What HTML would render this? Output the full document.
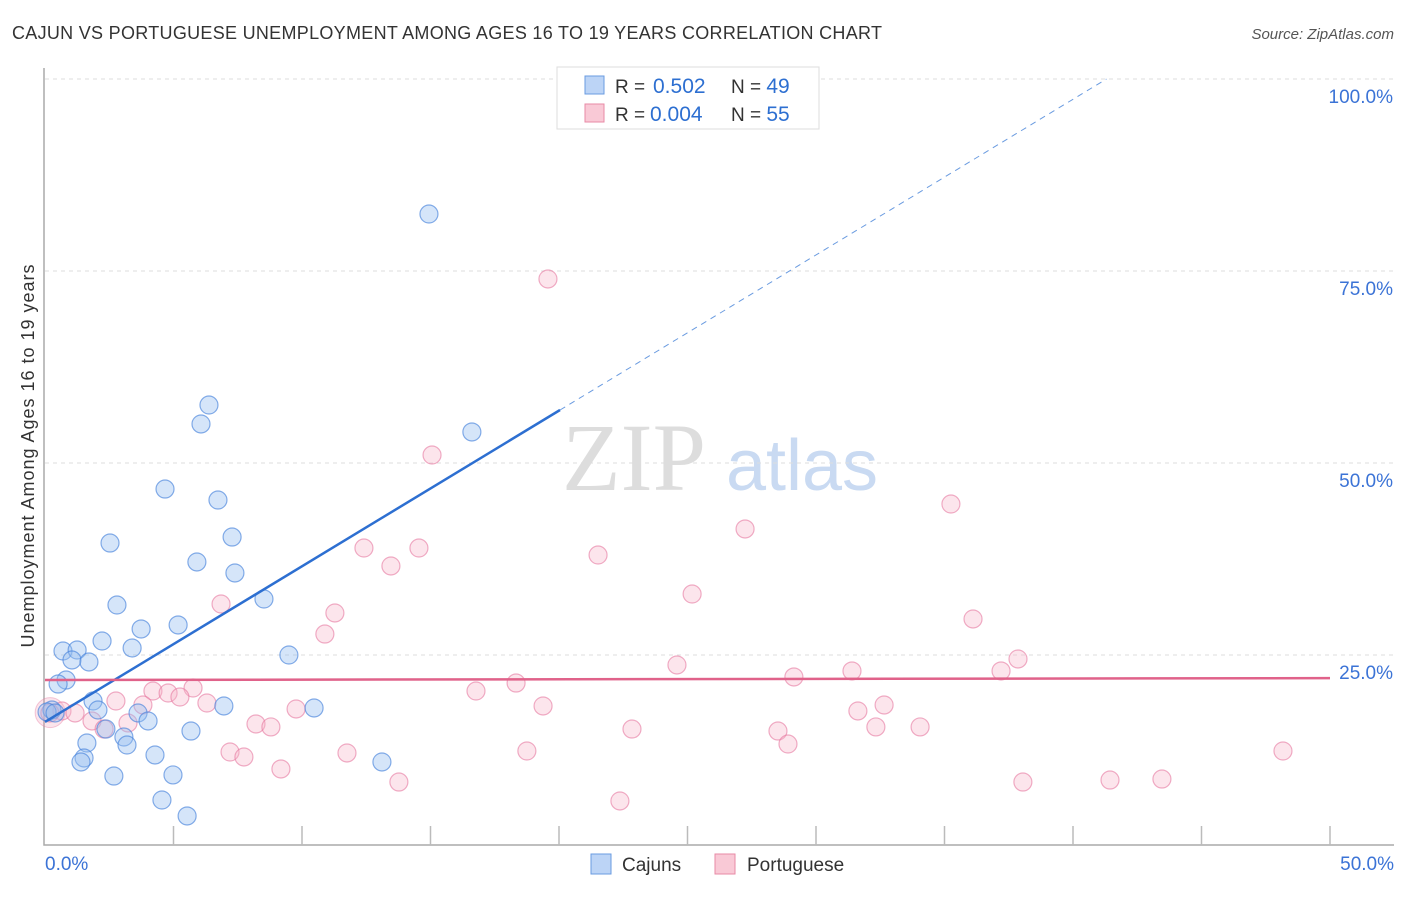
<!DOCTYPE html>
<html><head><meta charset="utf-8"><style>
body{margin:0;background:#fff;font-family:"Liberation Sans",sans-serif}
svg text{font-family:"Liberation Sans",sans-serif}
</style></head><body>
<svg id="chart" width="1406" height="892">
<text x="12" y="39" font-size="18" fill="#333" textLength="870">CAJUN VS PORTUGUESE UNEMPLOYMENT AMONG AGES 16 TO 19 YEARS CORRELATION CHART</text>
<text x="1394" y="39" font-size="15" fill="#555" font-style="italic" text-anchor="end">Source: ZipAtlas.com</text>
<text x="634" y="490" font-size="96" fill="#ddd" style="font-family:'Liberation Serif',serif" text-anchor="middle">ZIP</text>
<text x="802" y="490" font-size="72" fill="#c9daf2" text-anchor="middle">atlas</text>
<text transform="translate(34,456) rotate(-90)" font-size="18" fill="#333" text-anchor="middle" textLength="383">Unemployment Among Ages 16 to 19 years</text>
<g id="grid"></g><g id="marks"></g><g id="lines"></g>
<g>
<rect x="557" y="67" width="262" height="62" fill="#fff" stroke="#ddd"/>
<rect x="585" y="76" width="19" height="18" fill="#bcd4f6" stroke="#6a9be0"/>
<rect x="585" y="104" width="19" height="18" fill="#f9c9d6" stroke="#e88aa6"/>
<text x="615" y="93" font-size="19" fill="#333">R = <tspan x="653" fill="#2d6fd1" font-size="21">0.502</tspan><tspan x="731">N = </tspan><tspan fill="#2d6fd1" font-size="21">49</tspan></text>
<text x="615" y="121" font-size="19" fill="#333">R = <tspan x="650" fill="#2d6fd1" font-size="21">0.004</tspan><tspan x="731">N = </tspan><tspan fill="#2d6fd1" font-size="21">55</tspan></text>
</g>
<g>
<rect x="591" y="854" width="20" height="20" fill="#bcd4f6" stroke="#6a9be0"/>
<text x="622" y="871" font-size="19" fill="#333">Cajuns</text>
<rect x="715" y="854" width="20" height="20" fill="#f9c9d6" stroke="#e88aa6"/>
<text x="747" y="871" font-size="19" fill="#333">Portuguese</text>
</g>
</svg>
<script>
const cajunX=[14.94,6.38,6.07,16.61,4.67,6.73,7.28,2.53,5.91,7.39,8.52,2.80,3.74,5.18,2.22,3.39,0.70,1.25,9.49,1.05,1.71,0.82,0.51,1.87,2.06,6.96,10.47,0.27,0.08,3.62,4.01,2.37,3.07,3.19,5.68,1.63,1.52,1.40,4.28,13.11,2.68,4.98,4.55,5.53,0.39];
const cajunY=[82.42,57.55,55.08,54.04,46.61,45.18,40.36,39.58,37.11,35.68,32.29,31.51,28.39,28.91,26.82,25.91,25.52,25.65,25.0,24.35,24.09,21.74,21.22,19.01,17.84,18.36,18.10,17.84,17.58,17.45,16.41,15.36,14.32,13.28,15.10,13.54,11.59,11.07,11.98,11.07,9.24,9.38,6.12,4.04,17.45];
const portX=[19.57,15.06,35.25,27.24,12.41,14.55,21.52,13.46,6.85,25.18,11.28,36.11,10.89,37.86,24.59,37.20,31.40,29.14,18.33,5.76,16.77,4.20,4.79,5.25,6.30,2.76,3.81,19.38,32.65,9.77,31.63,0.66,1.17,1.83,3.23,8.21,8.79,2.30,22.84,32.33,34.05,28.52,28.91,7.20,11.75,18.75,7.74,9.18,48.17,13.77,38.05,41.44,43.46,22.37,0.19];
const portY=[73.96,51.04,44.66,41.41,38.93,38.93,38.02,36.59,31.64,32.94,30.47,29.69,27.73,24.48,23.70,22.92,22.92,22.14,21.35,20.70,20.31,20.31,20.05,19.53,18.75,19.01,18.49,18.36,18.49,17.97,17.71,17.71,17.45,16.41,16.15,16.02,15.63,15.36,15.36,15.63,15.63,15.10,13.41,12.37,12.24,12.50,11.72,10.16,12.50,8.46,8.46,8.72,8.85,5.99,17.45];
const yTicks=[25,50,75,100];
const yTickLabels=["25.0%","50.0%","75.0%","100.0%"];
const xTickLabels=["0.0%","50.0%"];
const cajunTrend=[16.28,2.027];
const portTrend=[21.74,0.005];
const NS="http://www.w3.org/2000/svg";
const X=v=>45+v*25.7, Y=v=>847-v*7.68;
function mk(parent,tag,attrs){const e=document.createElementNS(NS,tag);for(const k in attrs)e.setAttribute(k,attrs[k]);document.getElementById(parent).appendChild(e);return e;}
yTicks.forEach((t,i)=>{
 const g=mk('grid','line',{x1:45,x2:1394,y1:Y(t),y2:Y(t),stroke:'#ddd','stroke-dasharray':'4,4'});
 
 
 const l=mk('grid','text',{x:1393,y:Y(t)+24,'font-size':19,fill:'#3b73d6','text-anchor':'end'});l.textContent=yTickLabels[i];
 
 
});
const ax=mk('grid','path',{d:'M44,68 V845 H1394',stroke:'#aaa',fill:'none','stroke-width':1.5});


for(let i=1;i<=10;i++){const t=mk('grid','line',{x1:X(i*5),x2:X(i*5),y1:826,y2:845,stroke:'#bbb','stroke-width':1.5});
 
 }
[[0,'start',45],[50,'end',1394]].forEach((a,i)=>{const l=mk('grid','text',{x:a[2],y:870,'font-size':19,fill:'#3b73d6','text-anchor':a[1]});l.textContent=xTickLabels[i];
 
 });
const big=mk('marks','circle',{cx:X(0.2),cy:Y(17.5),r:15,fill:'rgba(240,150,180,0.25)',stroke:'rgba(230,120,160,0.4)'});


portX.forEach((x,i)=>{const c=mk('marks','circle',{cx:X(x),cy:Y(portY[i]),r:9,fill:'rgba(246,180,200,0.35)',stroke:'rgba(230,120,160,0.6)','stroke-width':1.2});
 
 });
cajunX.forEach((x,i)=>{const c=mk('marks','circle',{cx:X(x),cy:Y(cajunY[i]),r:9,fill:'rgba(150,190,240,0.4)',stroke:'rgba(70,130,220,0.65)','stroke-width':1.2});
 
 });
const xs=20.04, xe=(100-cajunTrend[0])/cajunTrend[1];
const l1=mk('lines','line',{x1:X(0),y1:Y(cajunTrend[0]),x2:X(xs),y2:Y(cajunTrend[0]+cajunTrend[1]*xs),stroke:'#2d6fd1','stroke-width':2.5});


const l2=mk('lines','line',{x1:X(xs),y1:Y(cajunTrend[0]+cajunTrend[1]*xs),x2:X(xe),y2:Y(100),stroke:'#6a9be0','stroke-width':1,'stroke-dasharray':'6,5'});


const l3=mk('lines','line',{x1:X(0),y1:Y(portTrend[0]),x2:X(50),y2:Y(portTrend[0]+portTrend[1]*50),stroke:'#e0628a','stroke-width':2.5});


</script>
</body></html>
